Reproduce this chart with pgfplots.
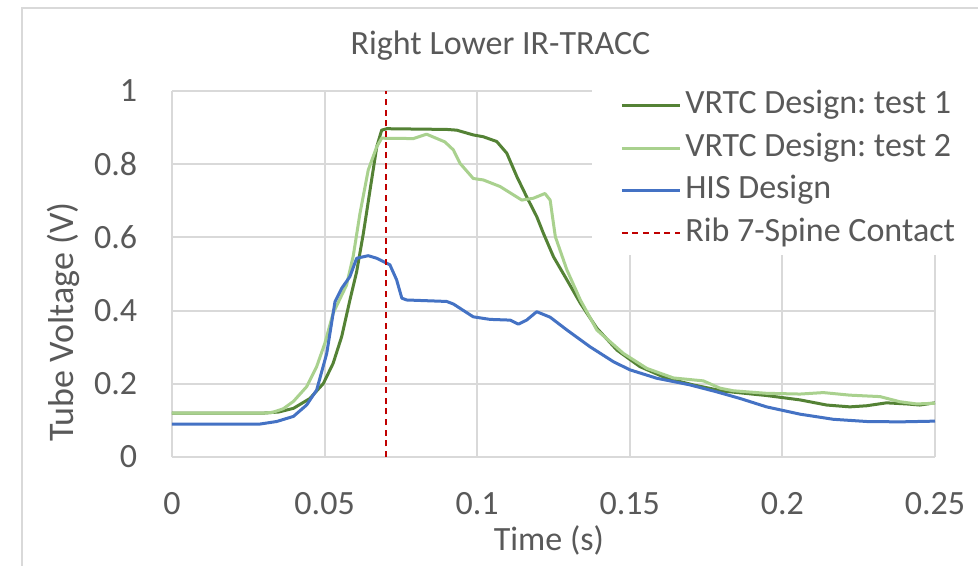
\documentclass[border=0pt]{standalone}
\usepackage{pgfplots}
\pgfplotsset{compat=1.18}
\usepackage{fontspec}
\setmainfont{Carlito}
\frenchspacing
\definecolor{gridc}{HTML}{D9D9D9}
\definecolor{txtc}{HTML}{595959}
\definecolor{dgreen}{HTML}{548235}
\definecolor{lgreen}{HTML}{A9D18E}
\definecolor{hisblue}{HTML}{4472C4}
\definecolor{ribred}{HTML}{C00000}
\newcommand{\cf}{\fontsize{25.5}{30}\selectfont}
\begin{document}
\begin{tikzpicture}
\useasboundingbox (0pt,0pt) rectangle (733.5pt,423.75pt);
\fill[white] (0pt,0pt) rectangle (733.5pt,423.75pt);
\draw[gridc, line width=1.5pt] (16.5pt,-10pt) -- (16.5pt,417.75pt) -- (760pt,417.75pt);
\begin{axis}[
  at={(129pt,81pt)}, anchor=south west,
  scale only axis, width=572.25pt, height=274.5pt,
  xmin=0, xmax=0.25, ymin=0, ymax=1,
  xtick={0,0.05,0.1,0.15,0.2,0.25},
  xticklabels={0,0.05,0.1,0.15,0.2,0.25},
  ytick={0,0.2,0.4,0.6,0.8,1},
  yticklabels={0,0.2,0.4,0.6,0.8,1},
  major tick length=0pt,
  grid=major,
  grid style={draw=gridc, line width=1.5pt},
  axis x line*=bottom, axis y line*=left,
  axis line style={draw=gridc, line width=1.5pt, -},
  ticklabel style={font=\cf, text=txtc},
  xticklabel style={anchor=north, inner sep=0pt, yshift=-26pt},
  yticklabel style={anchor=east, inner sep=0pt, xshift=-26pt},
  /pgf/number format/assume math mode=true,
  title={Right Lower IR-TRACC},
  title style={font=\cf, text=txtc, at={(axis description cs:0.4305,1.079)}, anchor=base, inner sep=0pt},
  xlabel={Time (s)},
  xlabel style={font=\cf, text=txtc, at={(axis description cs:0.494,-0.256)}, anchor=base, inner sep=0pt},
  ylabel={Tube Voltage (V)},
  ylabel style={font=\fontsize{27}{32}\selectfont, text=txtc, at={(axis description cs:-0.1297,0.369)}, anchor=base, rotate=0, inner sep=0pt},
  legend style={at={(axis description cs:0.5505,1.0198)}, anchor=north west, fill=white, draw=none,
    inner xsep=21pt, inner ysep=0pt, font=\cf, text=txtc,
    nodes={inner xsep=3pt, inner ysep=4pt, text height=18pt, text depth=6pt}},
  legend cell align=left,
  legend image code/.code={\draw[#1] (0pt,0pt) -- (43.5pt,0pt);},
]
\addplot[dgreen, line width=2.25pt, line join=round] coordinates {
(0,0.12) (0.030,0.12) (0.035,0.123) (0.0398,0.133) (0.0452,0.160) (0.0496,0.201)
(0.0528,0.256) (0.0556,0.329) (0.0583,0.429) (0.0605,0.506) (0.0627,0.611)
(0.0649,0.730) (0.0671,0.848) (0.0687,0.893) (0.0704,0.897) (0.080,0.896)
(0.090,0.895) (0.0933,0.893) (0.0987,0.880) (0.102,0.875) (0.1064,0.862)
(0.1097,0.830) (0.1130,0.766) (0.1162,0.711) (0.1195,0.657) (0.1217,0.611)
(0.1250,0.547) (0.1294,0.484) (0.1338,0.420) (0.1392,0.352) (0.1458,0.292)
(0.1533,0.247) (0.1621,0.215) (0.1708,0.197) (0.1806,0.180) (0.1948,0.168)
(0.2058,0.156) (0.2145,0.142) (0.2221,0.137) (0.2276,0.140) (0.2341,0.148)
(0.2407,0.145) (0.245,0.142) (0.25,0.148)
};
\addlegendentry{VRTC Design: test 1}
\addplot[lgreen, line width=2.25pt, line join=round] coordinates {
(0,0.12) (0.030,0.12) (0.033,0.122) (0.0365,0.132) (0.0398,0.152) (0.0441,0.192)
(0.0474,0.247) (0.0501,0.311) (0.0528,0.393) (0.0572,0.470) (0.0594,0.550)
(0.0616,0.666) (0.0643,0.784) (0.0671,0.848) (0.0687,0.871) (0.0791,0.870)
(0.0834,0.882) (0.0894,0.861) (0.0922,0.839) (0.0944,0.802) (0.0987,0.761)
(0.1020,0.757) (0.1075,0.739) (0.1146,0.702) (0.1184,0.707) (0.1222,0.720)
(0.1239,0.702) (0.1256,0.602) (0.1294,0.511) (0.1338,0.429) (0.1392,0.347)
(0.1479,0.283) (0.1556,0.242) (0.1643,0.216) (0.1741,0.208) (0.1796,0.188)
(0.1839,0.181) (0.1948,0.174) (0.2058,0.172) (0.2134,0.176) (0.2221,0.169)
(0.2320,0.165) (0.2385,0.151) (0.244,0.145) (0.25,0.147)
};
\addlegendentry{VRTC Design: test 2}
\addplot[hisblue, line width=2.25pt, line join=round] coordinates {
(0,0.09) (0.0288,0.09) (0.0343,0.097) (0.0398,0.111) (0.0441,0.142) (0.0474,0.183)
(0.0507,0.283) (0.0534,0.424) (0.0556,0.461) (0.0583,0.493) (0.0605,0.543)
(0.0643,0.550) (0.0671,0.543) (0.0714,0.525) (0.0736,0.484) (0.0753,0.434)
(0.0769,0.429) (0.0900,0.425) (0.0922,0.418) (0.0987,0.383) (0.1042,0.376)
(0.1108,0.374) (0.1135,0.363) (0.1162,0.374) (0.1195,0.397) (0.1239,0.382)
(0.1294,0.347) (0.1370,0.301) (0.1447,0.260) (0.1501,0.238) (0.1589,0.215)
(0.1697,0.197) (0.1785,0.178) (0.1861,0.160) (0.1948,0.137) (0.2058,0.117)
(0.2167,0.103) (0.2276,0.097) (0.2385,0.096) (0.25,0.098)
};
\addlegendentry{HIS Design}
\addplot[ribred, line width=1.5pt, dash pattern=on 4.5pt off 3.5pt] coordinates {(0.07,0) (0.07,1)};
\addlegendentry{Rib 7-Spine Contact}
\end{axis}
\end{tikzpicture}
\end{document}
